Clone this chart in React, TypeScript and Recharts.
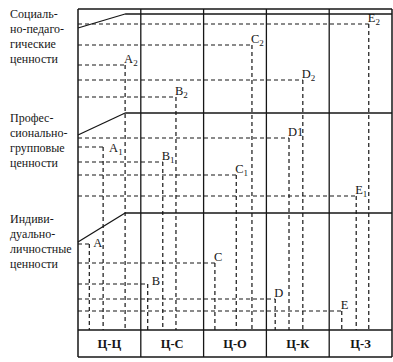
import { ComposedChart, XAxis, YAxis, Scatter, ReferenceLine } from 'recharts';

const columns = ['Ц-Ц', 'Ц-С', 'Ц-О', 'Ц-К', 'Ц-З'];
const pointLetters = ['A', 'B', 'C', 'D', 'E'];

// уровни ценностей снизу вверх
const levelTitles = [
  ['Индиви-', 'дуально-', 'личностные', 'ценности'],
  ['Профес-', 'сионально-', 'групповые', 'ценности'],
  ['Социаль-', 'но-педаго-', 'гические', 'ценности'],
];
const levelTitleY = [89, 190, 294];
const levelIndex = ['', '1', '2'];

const individualX = [0.18, 1.11, 2.18, 3.14, 4.2];
const individualY = [86, 46, 67, 31, 19];
const professionalX = [0.4, 1.35, 2.52, 3.36, 4.43];
const professionalY = [183, 168, 155, 192, 134];
const socialX = [0.75, 1.56, 2.77, 3.58, 4.63];
const socialY = [265, 233, 285, 250, 306];

// границы уровней: наклонный участок и горизонталь
const bandStartY = [88, 195, 302];
const bandEndY = [117, 217, 316];
const bandBendX = 0.75;

const X_MAX = columns.length;
const Y_MIN = -27;
const Y_MAX = 321;

const levelXs = [individualX, professionalX, socialX];
const levelYs = [individualY, professionalY, socialY];

const points = levelXs.flatMap((xs, li) =>
  xs.map((x, i) => ({
    x,
    y: levelYs[li][i],
    letter: pointLetters[i],
    sub: levelIndex[li],
  }))
);

const columnCells = columns.map((name, i) => ({ x: i + 0.5, y: Y_MIN / 2, name }));

const INK = '#161616';
const serif = { fontFamily: '"Liberation Serif", "Times New Roman", serif' };

const labelShift: Record<string, [number, number]> = {
  A: [4, 3],
  A1: [6, 5],
  B: [4, 1],
};

function PointLabel(props: any) {
  const { cx, cy, payload } = props;
  const key = payload.letter + payload.sub;
  const [dx, dy] = labelShift[key] ?? [-1, -2];
  const plainIndex = key === 'D1';
  return (
    <text x={cx + dx} y={cy + dy} fontSize={12.5} style={serif} fill={INK}>
      {payload.letter}
      {payload.sub && (
        <tspan fontSize={plainIndex ? 12.5 : 9} dy={plainIndex ? 0 : 3}>
          {payload.sub}
        </tspan>
      )}
    </text>
  );
}

function ColumnLabel(props: any) {
  const { cx, cy, payload } = props;
  return (
    <text
      x={cx}
      y={cy}
      textAnchor="middle"
      dominantBaseline="central"
      fontSize={12.5}
      fontWeight={600}
      style={serif}
      fill={INK}
    >
      {payload.name}
    </text>
  );
}

function LevelTick(props: any) {
  const { y, payload } = props;
  const li = levelTitleY.indexOf(payload.value);
  const lines = levelTitles[li] ?? [];
  return (
    <text x={10} y={y} fontSize={12} style={serif} fill={INK} dominantBaseline="central">
      {lines.map((line, i) => (
        <tspan key={line + i} x={10} y={y + (i - 1.5) * 15}>
          {line}
        </tspan>
      ))}
    </text>
  );
}

export default function App() {
  return (
    <div style={{ position: 'absolute', left: 0, top: 0, width: 393, height: 362, background: '#fff' }}>
      <ComposedChart width={393} height={362} margin={{ top: 9, right: 1, bottom: 5, left: 0 }}>
        <XAxis type="number" dataKey="x" domain={[0, X_MAX]} hide allowDataOverflow />
        <YAxis
          type="number"
          dataKey="y"
          domain={[Y_MIN, Y_MAX]}
          width={78}
          ticks={levelTitleY}
          interval={0}
          axisLine={false}
          tickLine={false}
          tick={<LevelTick />}
          allowDataOverflow
        />

        {/* пунктирные проекции точек на оси */}
        {points.map((p) => (
          <ReferenceLine
            key={`h-${p.letter}${p.sub}`}
            segment={[
              { x: 0, y: p.y },
              { x: p.x, y: p.y },
            ]}
            stroke={INK}
            strokeWidth={1.2}
            strokeDasharray="4 3"
          />
        ))}
        {points.map((p) => (
          <ReferenceLine
            key={`v-${p.letter}${p.sub}`}
            segment={[
              { x: p.x, y: p.y },
              { x: p.x, y: 0 },
            ]}
            stroke={INK}
            strokeWidth={1.2}
            strokeDasharray="4 3"
          />
        ))}

        {/* границы уровней */}
        {bandStartY.map((y0, i) => (
          <ReferenceLine
            key={`bs-${i}`}
            segment={[
              { x: 0, y: y0 },
              { x: bandBendX, y: bandEndY[i] },
            ]}
            stroke={INK}
            strokeWidth={1.3}
          />
        ))}
        {bandEndY.map((y1, i) => (
          <ReferenceLine
            key={`be-${i}`}
            segment={[
              { x: bandBendX, y: y1 },
              { x: X_MAX, y: y1 },
            ]}
            stroke={INK}
            strokeWidth={1.3}
          />
        ))}

        {/* рамка и столбцы */}
        {columns.slice(1).map((_, i) => (
          <ReferenceLine key={`col-${i}`} x={i + 1} stroke={INK} strokeWidth={1.3} />
        ))}
        <ReferenceLine x={0} stroke={INK} strokeWidth={1.5} />
        <ReferenceLine x={X_MAX} stroke={INK} strokeWidth={1.5} />
        <ReferenceLine y={Y_MAX} stroke={INK} strokeWidth={1.5} />
        <ReferenceLine y={0} stroke={INK} strokeWidth={1.5} />
        <ReferenceLine y={Y_MIN} stroke={INK} strokeWidth={1.5} />

        <Scatter data={points} isAnimationActive={false} shape={<PointLabel />} />
        <Scatter data={columnCells} isAnimationActive={false} shape={<ColumnLabel />} />
      </ComposedChart>
    </div>
  );
}
